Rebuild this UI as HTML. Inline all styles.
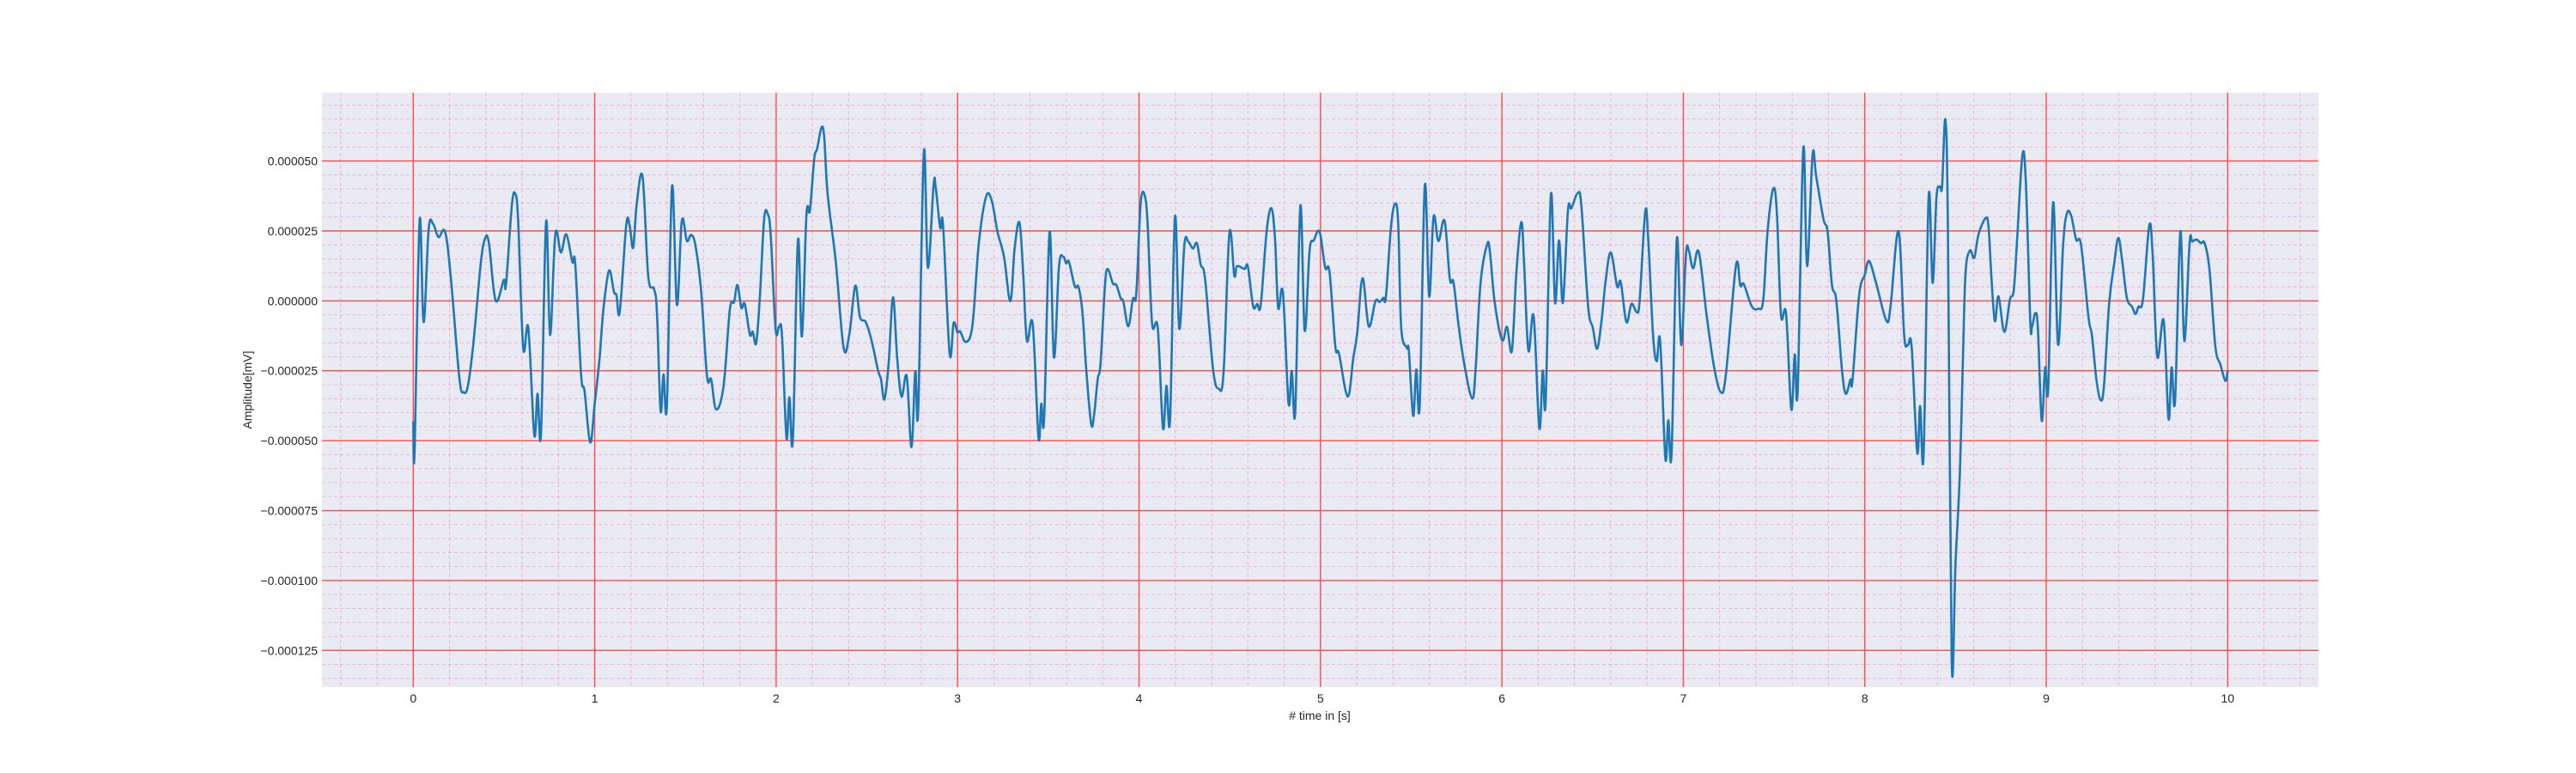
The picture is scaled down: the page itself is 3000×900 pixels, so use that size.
<!DOCTYPE html>
<html><head><meta charset="utf-8">
<style>
html,body{margin:0;padding:0;background:#fff;}
svg{display:block;font-family:"Liberation Sans",Arial,sans-serif;}
</style></head>
<body>
<svg id="chart" width="3000" height="900" viewBox="0 0 3000 900" xmlns="http://www.w3.org/2000/svg">
<rect x="375" y="108" width="2325" height="692" fill="#eaeaf2"/>
<g id="grid"></g>
<g id="series"></g>
<g id="ticks"></g>
<text x="1537" y="838" font-size="14" fill="#262626" text-anchor="middle"># time in [s]</text>
<text x="0" y="0" font-size="14" fill="#262626" text-anchor="middle" transform="translate(293,454) rotate(-90)">Amplitude[mV]</text>
</svg>
<script>
var times = [0,0.007,0.035,0.057,0.085,0.11,0.139,0.175,0.207,0.254,0.278,0.302,0.333,0.372,0.396,0.417,0.454,0.499,0.511,0.543,0.562,0.578,0.606,0.634,0.667,0.685,0.704,0.732,0.754,0.783,0.814,0.843,0.877,0.893,0.925,0.944,0.975,1.0,1.027,1.048,1.079,1.106,1.12,1.138,1.174,1.193,1.212,1.232,1.264,1.295,1.327,1.343,1.363,1.379,1.398,1.426,1.453,1.48,1.508,1.532,1.556,1.587,1.619,1.642,1.669,1.71,1.745,1.768,1.787,1.808,1.827,1.855,1.871,1.89,1.91,1.934,1.954,1.97,1.997,2.016,2.032,2.057,2.073,2.092,2.12,2.142,2.167,2.186,2.21,2.226,2.25,2.265,2.284,2.328,2.372,2.404,2.436,2.462,2.494,2.526,2.562,2.578,2.597,2.62,2.644,2.667,2.691,2.72,2.746,2.767,2.783,2.814,2.836,2.868,2.88,2.904,2.92,2.956,2.978,2.999,3.015,3.046,3.082,3.117,3.157,3.188,3.22,3.256,3.291,3.314,3.341,3.362,3.382,3.414,3.446,3.461,3.477,3.507,3.531,3.559,3.583,3.598,3.614,3.646,3.666,3.688,3.709,3.736,3.752,3.772,3.788,3.812,3.827,3.856,3.875,3.898,3.914,3.941,3.966,3.985,4.009,4.032,4.048,4.072,4.103,4.132,4.151,4.171,4.198,4.222,4.25,4.272,4.297,4.319,4.34,4.364,4.408,4.439,4.466,4.498,4.525,4.54,4.581,4.6,4.629,4.651,4.671,4.703,4.73,4.75,4.767,4.793,4.824,4.842,4.861,4.889,4.913,4.94,4.963,4.995,5.026,5.05,5.082,5.102,5.15,5.181,5.203,5.232,5.266,5.303,5.326,5.347,5.361,5.389,5.413,5.429,5.445,5.476,5.487,5.511,5.528,5.547,5.575,5.599,5.623,5.65,5.684,5.713,5.733,5.76,5.792,5.836,5.855,5.882,5.918,5.934,5.96,6.001,6.028,6.055,6.08,6.107,6.123,6.146,6.175,6.206,6.225,6.241,6.27,6.293,6.315,6.336,6.364,6.383,6.418,6.438,6.475,6.501,6.525,6.549,6.572,6.6,6.635,6.655,6.686,6.714,6.743,6.759,6.79,6.806,6.833,6.853,6.872,6.901,6.917,6.935,6.964,6.988,7.014,7.03,7.054,7.085,7.128,7.169,7.207,7.235,7.29,7.314,7.333,7.377,7.412,7.44,7.464,7.496,7.516,7.538,7.566,7.595,7.614,7.63,7.661,7.682,7.712,7.732,7.772,7.795,7.819,7.843,7.874,7.895,7.921,7.932,7.969,8.0,8.024,8.063,8.119,8.142,8.186,8.217,8.237,8.258,8.289,8.305,8.324,8.352,8.374,8.395,8.415,8.426,8.444,8.458,8.479,8.5,8.524,8.54,8.555,8.579,8.603,8.627,8.666,8.682,8.698,8.717,8.737,8.769,8.8,8.821,8.84,8.869,8.888,8.912,8.922,8.94,8.954,8.975,8.994,9.011,9.038,9.065,9.093,9.114,9.138,9.165,9.192,9.233,9.252,9.276,9.299,9.318,9.347,9.375,9.397,9.418,9.444,9.473,9.492,9.508,9.533,9.568,9.587,9.612,9.647,9.674,9.691,9.71,9.739,9.761,9.79,9.805,9.829,9.853,9.873,9.9,9.932,9.96,9.987,10.0];
var amplitudes = [-43.4,-54.2,28.7,-7.6,25.7,27.4,22.8,24.7,8.3,-27.5,-32.7,-30.1,-14.2,13.4,22.3,20.6,0.1,7.5,5.7,33.9,38.3,28.8,-16.8,-9.6,-48.0,-33.2,-47.5,28.2,-12.2,23.8,17.3,23.8,13.9,12.9,-26.5,-32.2,-50.6,-36.8,-20.4,-3.0,10.8,3.2,2.1,-4.0,27.2,26.7,19.0,34.9,44.3,8.8,4.2,-4.0,-39.3,-26.3,-37.3,40.8,-1.4,28.6,21.4,23.6,19.5,3.2,-27.0,-28.1,-38.8,-30.6,-3.0,-0.4,5.7,-2.5,-1.1,-12.0,-11.0,-15.1,1.1,29.3,31.0,23.6,-10.0,-9.3,-12.2,-49.0,-34.5,-49.9,21.6,-12.7,30.8,32.3,50.8,54.4,62.0,58.4,38.0,14.4,-16.8,-11.7,5.4,-5.8,-7.6,-14.2,-25.0,-28.1,-35.2,-22.4,1.3,-20.4,-34.2,-27.0,-52.3,-25.3,-39.3,53.1,11.9,41.6,40.2,26.2,26.9,-18.8,-7.9,-11.2,-11.0,-14.7,-8.6,20.6,37.2,35.9,24.7,15.7,-0.1,18.5,28.0,9.3,-14.2,-8.3,-49.0,-36.8,-41.9,24.5,-20.2,12.4,15.7,13.4,13.9,5.2,5.0,-4.0,-24.5,-43.9,-40.9,-28.1,-22.4,5.2,11.4,6.2,5.7,1.1,-0.4,-9.1,0.6,2.7,34.9,37.5,26.7,-8.1,-9.6,-45.5,-30.4,-42.4,30.0,-10.0,20.1,21.1,18.7,20.6,12.9,7.8,-24.5,-31.4,-25.5,24.2,9.1,12.4,11.4,12.2,-1.9,-1.1,-1.4,24.7,33.1,21.6,-2.5,3.0,-36.6,-25.0,-39.6,33.9,-10.6,18.0,21.6,24.7,11.9,10.3,-16.3,-18.8,-34.2,-20.4,-11.2,8.1,-9.1,-0.1,-0.4,1.1,1.6,26.7,34.9,26.7,-9.6,-16.8,-17.8,-41.1,-24.5,-37.3,41.2,1.6,30.0,21.4,28.6,7.8,6.7,-8.1,-22.4,-34.9,-24.5,6.2,20.1,17.5,-0.4,-14.0,-9.3,-17.8,10.3,28.2,12.4,-17.8,-5.5,-45.5,-25.0,-36.2,38.0,-0.7,21.6,-0.7,32.3,33.1,38.5,33.9,-1.9,-9.6,-17.1,-7.1,7.3,17.3,5.2,6.7,-7.6,-1.1,-4.0,0.1,31.8,22.6,-12.2,-21.6,-14.2,-56.4,-42.7,-54.7,22.1,-15.8,16.5,18.0,11.6,17.5,-5.0,-23.5,-32.7,-26.0,12.6,5.4,6.0,-1.9,-2.8,0.1,24.7,40.2,30.8,-5.0,-4.5,-38.8,-19.2,-32.2,54.4,12.4,52.1,44.6,29.3,24.7,5.7,0.1,-24.5,-33.2,-28.1,-28.6,2.1,9.3,14.2,6.2,-7.1,-1.9,24.9,-12.2,-15.8,-16.3,-54.2,-37.6,-55.2,37.2,6.4,37.0,40.8,41.0,64.8,26.7,-128.8,-93.9,-61.6,-22.8,9.6,18.0,15.4,23.8,29.6,26.4,8.3,-7.2,1.6,-11.1,0.5,3.8,22.5,52.3,41.9,-7.2,-9.2,-4.4,-9.8,-42.8,-23.8,-31.2,35.2,-15.6,19.9,31.3,30.3,21.9,19.9,-5.9,-12.4,-27.9,-35.4,-30.5,-0.8,13.5,22.5,14.7,1.2,-2.1,-4.7,-2.1,0.5,27.0,16.0,-19.9,-7.0,-42.2,-23.8,-35.7,24.7,-14.4,20.6,21.2,21.9,20.6,20.6,10.9,-16.3,-22.8,-28.6,-25.3];
var xTicks = [0,1,2,3,4,5,6,7,8,9,10];
var yTicks = [-125,-100,-75,-50,-25,0,25,50];
var yTickLabels = ["\u22120.000125","\u22120.000100","\u22120.000075","\u22120.000050","\u22120.000025","0.000000","0.000025","0.000050"];

var X0=375, X1=2700, Y0=108, Y1=800;
var xMin=-0.503, xMax=10.5, yMin=-138.1, yMax=74.4;
function sx(t){return X0+(t-xMin)/(xMax-xMin)*(X1-X0);}
function sy(v){return Y1-(v-yMin)/(yMax-yMin)*(Y1-Y0);}
var NS="http://www.w3.org/2000/svg";
var grid=document.getElementById('grid');
function line(x1,y1,x2,y2,stroke,w,dash){
  var l=document.createElementNS(NS,'line');
  l.setAttribute('x1',x1);l.setAttribute('y1',y1);l.setAttribute('x2',x2);l.setAttribute('y2',y2);
  l.setAttribute('stroke',stroke);l.setAttribute('stroke-width',w);
  if(dash)l.setAttribute('stroke-dasharray',dash);
  return l;
}
for(var i=-2;i<=52;i++){
  if(i%5===0)continue;
  var t=i*0.2; if(t<xMin||t>xMax)continue;
  var l=line(sx(t),Y0,sx(t),Y1,'#f29fd8',0.9,'4,3');
  l.setAttribute('stroke-opacity','0.8');
  
  
  grid.appendChild(l);
}
for(var j=-27;j<=14;j++){
  if(j%5===0)continue;
  var v=j*5; if(v<yMin||v>yMax)continue;
  var l=line(X0,sy(v),X1,sy(v),'#f29fd8',0.9,'4,3');
  l.setAttribute('stroke-opacity','0.8');
  
  
  grid.appendChild(l);
}
var ticks=document.getElementById('ticks');
xTicks.forEach(function(t){
  var l=line(sx(t),Y0,sx(t),Y1,'#ff4a4a',1.4);
  
  
  grid.appendChild(l);
  var tx=document.createElementNS(NS,'text');
  
  
  tx.setAttribute('x',sx(t));tx.setAttribute('y',818);
  tx.setAttribute('font-size','14');tx.setAttribute('fill','#262626');tx.setAttribute('text-anchor','middle');
  tx.textContent=String(t);ticks.appendChild(tx);
});
yTicks.forEach(function(v,k){
  var l=line(X0,sy(v),X1,sy(v),'#ff4a4a',1.4);
  
  
  grid.appendChild(l);
  var tx=document.createElementNS(NS,'text');
  
  
  tx.setAttribute('x',370);tx.setAttribute('y',sy(v)+5);
  tx.setAttribute('font-size','14');tx.setAttribute('fill','#262626');tx.setAttribute('text-anchor','end');
  tx.textContent=yTickLabels[k];ticks.appendChild(tx);
});
// series: Catmull-Rom smoothed path
var pts=times.map(function(t,k){return [sx(t),sy(amplitudes[k])];});
var d='M'+pts[0][0].toFixed(2)+','+pts[0][1].toFixed(2);
var ten=0.35;
for(var k=0;k<pts.length-1;k++){
  var p0=pts[Math.max(0,k-1)],p1=pts[k],p2=pts[k+1],p3=pts[Math.min(pts.length-1,k+2)];
  var c1x=p1[0]+(p2[0]-p0[0])*ten/2, c1y=p1[1]+(p2[1]-p0[1])*ten/2;
  var c2x=p2[0]-(p3[0]-p1[0])*ten/2, c2y=p2[1]-(p3[1]-p1[1])*ten/2;
  d+='C'+c1x.toFixed(2)+','+c1y.toFixed(2)+' '+c2x.toFixed(2)+','+c2y.toFixed(2)+' '+p2[0].toFixed(2)+','+p2[1].toFixed(2);
}
var p=document.createElementNS(NS,'path');


p.setAttribute('d',d);p.setAttribute('fill','none');p.setAttribute('stroke','#1f77b4');
p.setAttribute('stroke-width','2.6');p.setAttribute('stroke-linejoin','round');p.setAttribute('stroke-linecap','round');
document.getElementById('series').appendChild(p);
</script>
</body></html>
